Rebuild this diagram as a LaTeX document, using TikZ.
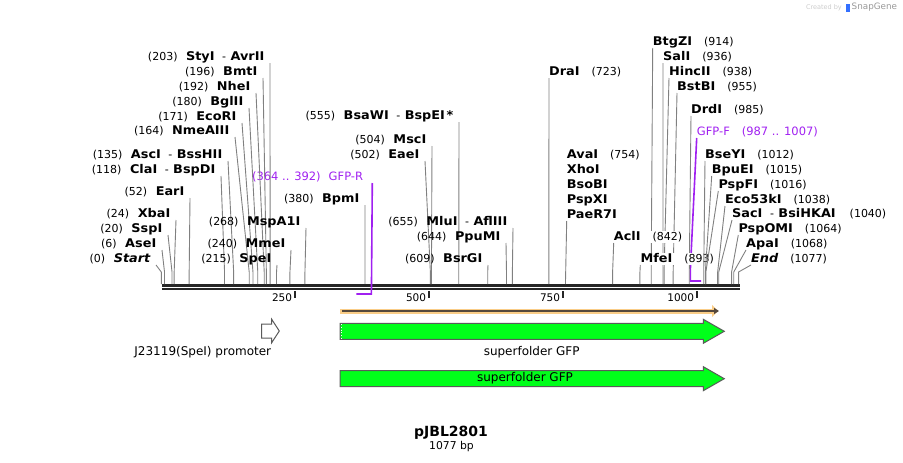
\documentclass[tikz,border=0pt]{standalone}
\usepackage{fontspec}
\setmainfont{DejaVu Sans}
\newfontfamily\enzfont[FakeStretch=1.07]{DejaVu Sans}
\usetikzlibrary{arrows.meta,positioning}

\definecolor{leadgray}{RGB}{128,128,128}
\definecolor{primerpurple}{RGB}{160,32,240}
\definecolor{gfpgreen}{RGB}{0,255,26}
\definecolor{orfband}{RGB}{250,205,135}
\definecolor{orfline}{RGB}{85,72,60}
\definecolor{featedge}{RGB}{90,90,90}

\newcommand{\enz}[1]{{\fontsize{12}{15}\selectfont\enzfont\bfseries #1}}
\newcommand{\pos}[1]{{\fontsize{11}{15}\selectfont #1}}

\tikzset{
  leftlab/.style={anchor=south east, inner xsep=5.5pt, inner ysep=0pt, text depth=2.5pt},
  rightlab/.style={anchor=south west, inner xsep=0pt, inner ysep=0pt, text depth=2.5pt},
  leader/.style={draw=leadgray, line width=0.9pt},
  primer/.style={draw=primerpurple, line width=1.6pt},
  primerlab/.style={text=primerpurple, font=\fontsize{11.5}{14}\selectfont, inner ysep=0pt, text depth=2.5pt},
  featlab/.style={font=\fontsize{12}{14}\selectfont, inner sep=0pt},
  ticklab/.style={font=\fontsize{10.5}{12}\selectfont, anchor=east, inner sep=0pt},
  cds/.style={draw=featedge, fill=gfpgreen, line width=1pt}
}

\begin{document}
\begin{tikzpicture}[x=1pt,y=-1pt]
  \useasboundingbox (0,0) rectangle (903,463);

  % backbone
  \draw[line width=2.5pt, black!85] (162,285.5) -- (740,285.5);
  \draw[line width=2.5pt, black!85] (162,289.2) -- (740,289.2);
  \foreach \t in {250,500,750,1000}{
    \coordinate (k\t) at ({161.3+0.536*\t},291);
    \draw[line width=2pt, black!85] (k\t) -- ++(0,6.5);
    \node[ticklab] (t\t) at ([xshift=-3pt,yshift=-7pt]k\t) {\t};
  }

  % primers
  \node[primerlab, anchor=south east, inner xsep=9pt] (gfpr) at (372.3,183) {(364 .. 392)\hspace{8pt}GFP-R};
  \coordinate (r392) at ({161.3+0.536*392},294);
  \coordinate (r364) at ({161.3+0.536*364},294);
  \draw[primer] (gfpr.south east) -- (r392) -- (r364);
  \node[primerlab, anchor=south west, inner xsep=0pt] (gfpf) at (696.7,138) {GFP-F\hspace{12pt}(987 .. 1007)};
  \coordinate (f987) at ({161.3+0.536*987},281);
  \coordinate (f1007) at ({161.3+0.536*1007},281);
  \draw[primer] (gfpf.south west) -- ([yshift=11pt]f987) -- (f987) -- (f1007);

  % enzymes with the label left of the cut line
  \foreach \bp/\lx/\ly/\txt in {
    203/270/63/{\pos{(203)}\hspace{8.5pt}\enz{StyI}\hspace{7.5pt}\pos{-}\hspace{4.5pt}\enz{AvrII}},
    196/263/78/{\pos{(196)}\hspace{8.5pt}\enz{BmtI}},
    192/256/93/{\pos{(192)}\hspace{8.5pt}\enz{NheI}},
    180/249/108/{\pos{(180)}\hspace{8.5pt}\enz{BglII}},
    171/242/123/{\pos{(171)}\hspace{8.5pt}\enz{EcoRI}},
    164/235/137/{\pos{(164)}\hspace{8.5pt}\enz{NmeAIII}},
    135/228/161/{\pos{(135)}\hspace{8.5pt}\enz{AscI}\hspace{7.5pt}\pos{-}\hspace{4.5pt}\enz{BssHII}},
    118/221/176/{\pos{(118)}\hspace{8.5pt}\enz{ClaI}\hspace{7.5pt}\pos{-}\hspace{4.5pt}\enz{BspDI}},
    52/190/198/{\pos{(52)}\hspace{8.5pt}\enz{EarI}},
    24/176/220/{\pos{(24)}\hspace{8.5pt}\enz{XbaI}},
    20/168/235/{\pos{(20)}\hspace{8.5pt}\enz{SspI}},
    6/162/250/{\pos{(6)}\hspace{8.5pt}\enz{AseI}},
    0/156/265/{\pos{(0)}\hspace{8.5pt}\enz{\itshape Start}},
    268/306/228/{\pos{(268)}\hspace{8.5pt}\enz{MspA1I}},
    240/291/250/{\pos{(240)}\hspace{8.5pt}\enz{MmeI}},
    215/277/265/{\pos{(215)}\hspace{8.5pt}\enz{SpeI}},
    380/365/205/{\pos{(380)}\hspace{8.5pt}\enz{BpmI}},
    555/459/122/{\pos{(555)}\hspace{8.5pt}\enz{BsaWI}\hspace{7.5pt}\pos{-}\hspace{4.5pt}\enz{BspEI}\,\enz{*}},
    504/432/146/{\pos{(504)}\hspace{8.5pt}\enz{MscI}},
    502/425/161/{\pos{(502)}\hspace{8.5pt}\enz{EaeI}},
    655/513/228/{\pos{(655)}\hspace{8.5pt}\enz{MluI}\hspace{7.5pt}\pos{-}\hspace{4.5pt}\enz{AflIII}},
    644/506/243/{\pos{(644)}\hspace{8.5pt}\enz{PpuMI}},
    609/488/265/{\pos{(609)}\hspace{8.5pt}\enz{BsrGI}}
  }{
    \node[leftlab] (n\bp) at (\lx,\ly) {\txt};
    \coordinate (s\bp) at ({161.3+0.536*\bp},284);
    \draw[leader] (n\bp.south east) -- ([yshift=12pt]s\bp) -- (s\bp);
  }

  % enzymes with the label right of the cut line
  \foreach \bp/\lx/\ly/\txt in {
    723/549/78/{\enz{DraI}\hspace{12pt}\pos{(723)}},
    914/652.7/48/{\enz{BtgZI}\hspace{12pt}\pos{(914)}},
    936/663/63/{\enz{SalI}\hspace{12pt}\pos{(936)}},
    938/669/78/{\enz{HincII}\hspace{12pt}\pos{(938)}},
    955/677/93/{\enz{BstBI}\hspace{12pt}\pos{(955)}},
    985/691/116/{\enz{DrdI}\hspace{12pt}\pos{(985)}},
    842/613.7/243/{\enz{AclI}\hspace{12pt}\pos{(842)}},
    893/640.3/265/{\enz{MfeI}\hspace{12pt}\pos{(893)}},
    1012/705/161/{\enz{BseYI}\hspace{12pt}\pos{(1012)}},
    1015/711.7/176/{\enz{BpuEI}\hspace{12pt}\pos{(1015)}},
    1016/718.3/191/{\enz{PspFI}\hspace{12pt}\pos{(1016)}},
    1038/725/206/{\enz{Eco53kI}\hspace{12pt}\pos{(1038)}},
    1040/732/220/{\enz{SacI}\hspace{7.5pt}\pos{-}\hspace{4.5pt}\enz{BsiHKAI}\hspace{14pt}\pos{(1040)}},
    1064/738.3/235/{\enz{PspOMI}\hspace{12pt}\pos{(1064)}},
    1068/746/250/{\enz{ApaI}\hspace{12pt}\pos{(1068)}},
    1077/751/265/{\enz{\itshape End}\hspace{12pt}\pos{(1077)}}
  }{
    \node[rightlab, fill=white] (n\bp) at (\lx,\ly) {\txt};
    \coordinate (s\bp) at ({161.3+0.536*\bp},284);
    \draw[leader] (n\bp.south west) -- ([yshift=12pt]s\bp) -- (s\bp);
  }

  \node[rightlab, align=left, font=\fontsize{12}{15}\selectfont] (n754) at (566.7,221)
    {\enz{AvaI}\hspace{12pt}\pos{(754)}\\\enz{XhoI}\\\enz{BsoBI}\\\enz{PspXI}\\\enz{PaeR7I}};
  \coordinate (s754) at ({161.3+0.536*754},284);
  \draw[leader] (n754.south west) -- (s754);

  % ORF
  \draw[orfband, line width=5pt, -{Triangle[length=6pt,width=12pt]}] (340,311) -- (718,311);
  \draw[orfline, line width=1.8pt, -{Triangle[length=5pt,width=6pt]}] (342,311) -- (719,311);

  % features
  \draw[featedge, fill=white, line width=1pt] (261.7,324) -- (271.7,324) -- (271.7,319.3)
    -- (279.3,331) -- (271.7,342.7) -- (271.7,338) -- (261.7,338) -- cycle;
  \node[featlab] (prom) at (202.8,352.3) {J23119(SpeI) promoter};

  \draw[cds] (340,323.3) -- (703.3,323.3) -- (703.3,319.3) -- (724.3,331.3)
    -- (703.3,343.3) -- (703.3,339.3) -- (340,339.3) -- cycle;
  \draw[white, line width=0.8pt, dotted] (341.8,324) -- (341.8,338.6);
  \node[featlab] (gfp1) at (531.7,352) {superfolder GFP};

  \draw[cds] (340,370.7) -- (703.3,370.7) -- (703.3,366.7) -- (724.3,378.7)
    -- (703.3,390.7) -- (703.3,386.7) -- (340,386.7) -- cycle;
  \node[featlab] (gfp2) at (525,378.5) {superfolder GFP};

  % title
  \node[font=\fontsize{14}{16}\selectfont\bfseries, inner sep=0pt] (title) at (451,433) {pJBL2801};
  \node[font=\fontsize{10.8}{12}\selectfont, inner sep=0pt] (size) at (451.5,447) {1077 bp};

  % corner mark
  \node[anchor=east, inner sep=0pt, text=black!20, font=\fontsize{6.5}{8}\selectfont] (made) at (842,7.5) {Created by};
  \fill[blue!70!cyan!80] (845.5,3.5) rectangle (849.5,12);
  \node[anchor=west, inner sep=0pt, text=black!40, font=\fontsize{8.8}{10}\selectfont] (snap) at (851.5,7.5) {SnapGene};
\end{tikzpicture}
\end{document}
